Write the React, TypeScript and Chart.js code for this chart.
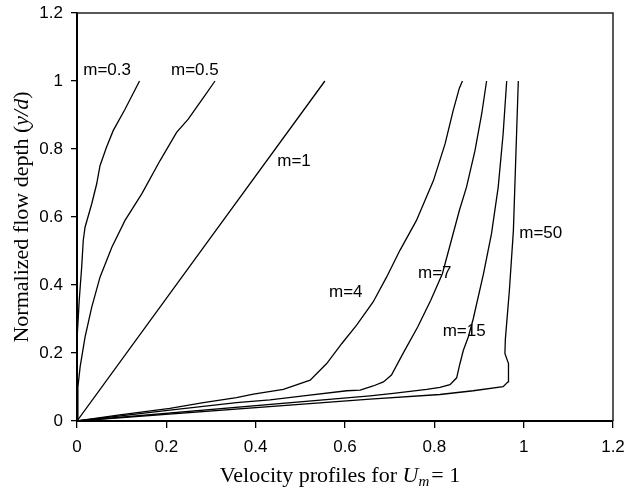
import React, { useEffect, useRef } from 'react';
import { Chart, registerables } from 'chart.js';

Chart.register(...registerables);

// Axis ticks
const xTicks = [0, 0.2, 0.4, 0.6, 0.8, 1, 1.2];
const yTicks = [0, 0.2, 0.4, 0.6, 0.8, 1, 1.2];

// Series (velocity x, normalized depth y)
const seriesNames = ['m=0.3', 'm=0.5', 'm=1', 'm=4', 'm=7', 'm=15', 'm=50'];

const m03X = [0, 0, 0.001, 0.005, 0.0105, 0.014, 0.018, 0.033, 0.044, 0.0515, 0.066, 0.081, 0.1075, 0.14];
const m03Y = [0, 0.15, 0.25, 0.355, 0.453, 0.531, 0.57, 0.639, 0.697, 0.751, 0.805, 0.854, 0.917, 1.0];

const m05X = [0, 0.002, 0.007, 0.018, 0.033, 0.0515, 0.078, 0.1075, 0.145, 0.186, 0.223, 0.249, 0.283, 0.309];
const m05Y = [0, 0.1, 0.159, 0.247, 0.335, 0.423, 0.511, 0.59, 0.668, 0.766, 0.849, 0.888, 0.951, 1.0];

const m1X = [0, 0.28, 0.555];
const m1Y = [0, 0.505, 1.0];

const m4X = [0, 0.096, 0.208, 0.283, 0.357, 0.395, 0.462, 0.522, 0.559, 0.593, 0.626, 0.663, 0.693, 0.723, 0.76, 0.798, 0.824, 0.842, 0.856, 0.863];
const m4Y = [0, 0.018, 0.037, 0.054, 0.069, 0.079, 0.093, 0.12, 0.169, 0.228, 0.282, 0.35, 0.423, 0.502, 0.59, 0.707, 0.815, 0.912, 0.979, 1.0];

const m7X = [0, 0.208, 0.357, 0.432, 0.507, 0.604, 0.634, 0.663, 0.686, 0.704, 0.73, 0.763, 0.792, 0.818, 0.838, 0.856, 0.872, 0.891, 0.906, 0.917];
const m7Y = [0, 0.032, 0.054, 0.062, 0.074, 0.089, 0.091, 0.103, 0.115, 0.135, 0.199, 0.277, 0.355, 0.433, 0.531, 0.619, 0.688, 0.795, 0.903, 1.0];

const m15X = [0, 0.656, 0.708, 0.783, 0.8126, 0.835, 0.85, 0.857, 0.865, 0.876, 0.887, 0.91, 0.928, 0.943, 0.954, 0.962];
const m15Y = [0, 0.074, 0.081, 0.093, 0.099, 0.107, 0.127, 0.167, 0.208, 0.247, 0.3, 0.433, 0.551, 0.688, 0.844, 1.0];

const m50X = [0, 0.656, 0.8126, 0.887, 0.954, 0.965, 0.966, 0.958, 0.959, 0.968, 0.977, 0.988];
const m50Y = [0, 0.0645, 0.078, 0.089, 0.101, 0.115, 0.169, 0.199, 0.24, 0.384, 0.56, 1.0];

const seriesX = [m03X, m05X, m1X, m4X, m7X, m15X, m50X];
const seriesY = [m03Y, m05Y, m1Y, m4Y, m7Y, m15Y, m50Y];

// Curve label anchors (data units, left edge / vertical middle)
const labelX = [0.014, 0.2104, 0.4484, 0.5641, 0.7634, 0.8187, 0.9901];
const labelY = [1.03, 1.03, 0.7638, 0.3794, 0.4343, 0.265, 0.5516];

const SANS = '"Liberation Sans", Arial, Helvetica, sans-serif';
const SERIF = '"Liberation Serif", "Times New Roman", Times, serif';

const overlay = {
  id: 'overlay',
  afterDatasetsDraw(chart: any) {
    const { ctx, chartArea, scales } = chart;
    const xs = scales.x;
    const ys = scales.y;
    ctx.save();
    // top & right frame
    ctx.strokeStyle = '#222';
    ctx.lineWidth = 1.5;
    ctx.beginPath();
    ctx.moveTo(chartArea.left, chartArea.top);
    ctx.lineTo(chartArea.right, chartArea.top);
    ctx.lineTo(chartArea.right, chartArea.bottom);
    ctx.stroke();

    // curve labels
    ctx.fillStyle = '#000';
    ctx.font = `17px ${SANS}`;
    ctx.textAlign = 'left';
    ctx.textBaseline = 'middle';
    seriesNames.forEach((t, i) => {
      ctx.fillText(t, xs.getPixelForValue(labelX[i]), ys.getPixelForValue(labelY[i]));
    });

    // x-axis title: Velocity profiles for U_m = 1
    ctx.textBaseline = 'alphabetic';
    const fN = `22px ${SERIF}`;
    const fI = `italic 22px ${SERIF}`;
    const fS = `italic 15px ${SERIF}`;
    const p1 = 'Velocity profiles for ';
    const p2 = 'U';
    const p3 = 'm';
    const p4 = '= 1';
    ctx.font = fN; const w1 = ctx.measureText(p1).width; const w4 = ctx.measureText(p4).width;
    ctx.font = fI; const w2 = ctx.measureText(p2).width;
    ctx.font = fS; const w3 = ctx.measureText(p3).width;
    const total = w1 + w2 + w3 + 2 + w4;
    const cx = (chartArea.left + chartArea.right) / 2 - 5;
    let x = cx - total / 2;
    const by = chartArea.bottom + 61;
    ctx.font = fN; ctx.fillText(p1, x, by); x += w1;
    ctx.font = fI; ctx.fillText(p2, x, by); x += w2;
    ctx.font = fS; ctx.fillText(p3, x, by + 4); x += w3 + 2;
    ctx.font = fN; ctx.fillText(p4, x, by);

    // y-axis title: Normalized flow depth (y/d)
    const q1 = 'Normalized flow depth (';
    const q2 = 'y/d';
    const q3 = ')';
    ctx.font = fN; const v1 = ctx.measureText(q1).width; const v3 = ctx.measureText(q3).width;
    ctx.font = fI; const v2 = ctx.measureText(q2).width;
    const tot = v1 + v2 + v3;
    ctx.translate(28, (chartArea.top + chartArea.bottom) / 2);
    ctx.rotate(-Math.PI / 2);
    let t = -tot / 2;
    ctx.font = fN; ctx.fillText(q1, t, 0); t += v1;
    ctx.font = fI; ctx.fillText(q2, t, 0); t += v2;
    ctx.font = fN; ctx.fillText(q3, t, 0);
    ctx.restore();
  },
};

export default function App() {
  const ref = useRef<HTMLCanvasElement>(null);
  useEffect(() => {
    if (!ref.current) return;
    const datasets = seriesNames.map((name, i) => ({
      label: name,
      data: seriesX[i].map((xv, j) => ({ x: xv, y: seriesY[i][j] })),
      showLine: true,
      borderColor: '#000',
      backgroundColor: '#000',
      borderWidth: 1.3,
      pointRadius: 0,
      tension: 0,
      fill: false,
    }));
    const chart = new Chart(ref.current, {
      type: 'scatter',
      data: { datasets },
      options: {
        animation: false,
        responsive: false,
        events: [],
        layout: { padding: { top: 13, right: 13, bottom: 0, left: 0 } },
        plugins: { legend: { display: false }, tooltip: { enabled: false } },
        scales: {
          x: {
            type: 'linear',
            min: 0,
            max: 1.2,
            afterBuildTicks: (s: any) => { s.ticks = xTicks.map((v) => ({ value: v })); },
            afterFit: (s: any) => {
              s.height = 69;
              s.paddingLeft = 0; s.paddingRight = 0; s.paddingTop = 0; s.paddingBottom = 0;
            },
            ticks: {
              color: '#000',
              font: { family: SANS, size: 17 },
              padding: 9,
              maxRotation: 0,
              autoSkip: false,
              callback: (v: any) => String(v),
            },
            grid: { drawOnChartArea: false, drawTicks: true, tickLength: 7, color: '#000', lineWidth: 1.3 },
            border: { display: true, color: '#000', width: 2 },
          },
          y: {
            type: 'linear',
            min: 0,
            max: 1.2,
            afterBuildTicks: (s: any) => { s.ticks = yTicks.map((v) => ({ value: v })); },
            afterFit: (s: any) => {
              s.width = 77;
              s.paddingLeft = 0; s.paddingRight = 0; s.paddingTop = 0; s.paddingBottom = 0;
            },
            ticks: {
              color: '#000',
              font: { family: SANS, size: 17 },
              padding: 8,
              autoSkip: false,
              callback: (v: any) => String(v),
            },
            grid: { drawOnChartArea: false, drawTicks: true, tickLength: 6, color: '#000', lineWidth: 1.3 },
            border: { display: true, color: '#000', width: 2 },
          },
        },
      },
      plugins: [overlay],
    });
    return () => chart.destroy();
  }, []);
  return (
    <div style={{ position: 'absolute', left: 0, top: 0, width: 626, height: 490, background: '#fff' }}>
      <canvas ref={ref} width={626} height={490} style={{ display: 'block' }} />
    </div>
  );
}
